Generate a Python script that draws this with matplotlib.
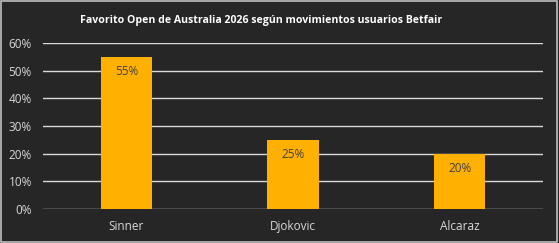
import matplotlib
matplotlib.use("Agg")
import matplotlib.pyplot as plt
from matplotlib.patches import Rectangle
from matplotlib.ticker import PercentFormatter

# data
players = ['Sinner', 'Djokovic', 'Alcaraz']
share = [55, 25, 20]
yticks = [0, 10, 20, 30, 40, 50, 60]

bg = '#262626'
bar_color = '#FFB000'
txt = '#D9D9D9'

plt.rcParams['font.family'] = ['Open Sans', 'DejaVu Sans']

fig = plt.figure(figsize=(5.59, 2.43), dpi=100, facecolor=bg)
ax = fig.add_axes([43 / 559, 1 - 209 / 243, 500 / 559, 166 / 243])
ax.set_facecolor(bg)

x = range(len(players))
bars = ax.bar(x, share, width=0.31, color=bar_color, zorder=3)

# labels inside bar tops
for b, v in zip(bars, share):
    ax.annotate(f'{v}%', (b.get_x() + b.get_width() / 2, v),
                xytext=(0, -10.5), textcoords='offset points',
                ha='center', va='center', fontsize=8.5, color='#404040', zorder=4)

ax.set_xlim(-0.5, len(players) - 0.5)
ax.set_ylim(0, 60)
ax.set_yticks(yticks)
ax.yaxis.set_major_formatter(PercentFormatter(decimals=0))
ax.set_xticks(list(x))
ax.set_xticklabels(players)
ax.grid(axis='y', color=txt, linewidth=1, zorder=0)
ax.tick_params(length=0, colors=txt, labelsize=8.5)
ax.tick_params(axis='x', pad=8)
ax.tick_params(axis='y', pad=8)
for s in ax.spines.values():
    s.set_visible(False)

fig.text(261 / 559, 1 - 20 / 243, 'Favorito Open de Australia 2026 según movimientos usuarios Betfair',
         ha='center', va='center', fontsize=7.6, fontweight='bold', color='white')

# outer frame
fig.patches.append(Rectangle((0.002, 0.004), 0.995, 0.99, transform=fig.transFigure,
                             fill=False, edgecolor='#BFBFBF', linewidth=1.2))

fig.savefig('out.png', dpi=100, facecolor=bg)
